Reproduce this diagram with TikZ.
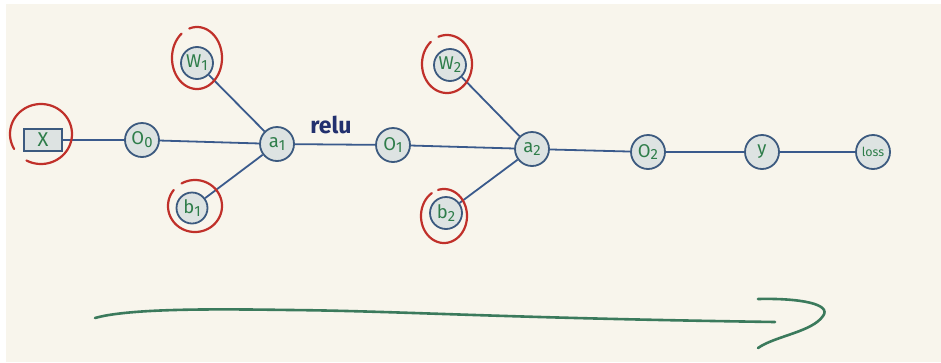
\documentclass[tikz,border=0pt]{standalone}
\usepackage{fontspec}
\setmainfont{Fira Sans}
\definecolor{paper}{HTML}{F8F5EC}
\definecolor{edgeblue}{HTML}{3A5A8C}
\definecolor{ringblue}{HTML}{3C5A7F}
\definecolor{nodefill}{HTML}{DDE3E2}
\definecolor{inkgreen}{HTML}{2E7D4A}
\definecolor{penred}{HTML}{C0302A}
\definecolor{navy}{HTML}{22306E}
\definecolor{arrowgreen}{HTML}{3B7A5C}
\newcommand{\lowidx}[1]{\raisebox{-0.3ex}{\scalebox{0.8}{#1}}}
% hand-drawn ring: centre x, centre y, x radius, y radius, first angle, last angle
\newcommand{\penring}[6]{%
  \draw[ring] plot[domain=#5:#6, samples=90, smooth]
    ({#1+#3*cos(\x)}, {#2+#4*sin(\x)});}
\tikzset{
  var/.style={circle, draw=ringblue, fill=nodefill, line width=1.8pt,
    minimum size=#1, inner sep=0pt, text=inkgreen, font=\fontsize{18.5}{18.5}\selectfont},
  var/.default=34pt,
  inbox/.style={rectangle, draw=ringblue, fill=nodefill, line width=1.8pt,
    minimum width=38pt, minimum height=22pt, inner sep=0pt, text=inkgreen,
    font=\fontsize{20}{20}\selectfont},
  link/.style={draw=edgeblue, line width=1.8pt},
  ring/.style={draw=penred, line width=2.2pt, line cap=round},
  flow/.style={draw=arrowgreen, line width=2.6pt, line cap=round, line join=round}
}
\begin{document}
\begin{tikzpicture}[x=1pt, y=-1pt]
  \useasboundingbox (0,0) rectangle (941,362);
  \fill[white] (0,0) rectangle (941,362);
  \fill[paper] (6,4) rectangle (941,362);

  % graph nodes
  \node[inbox] (x) at (43,140) {X};
  \node[var] (o0) at (142,140) {O\lowidx{0}};
  \node[var=32pt] (w1) at (197,63) {W\lowidx{1}};
  \node[var=31pt] (b1) at (192,208) {b\lowidx{1}};
  \node[var] (a1) at (277,144) {a\lowidx{1}};
  \node[var] (o1) at (393,145) {O\lowidx{1}};
  \node[var=32pt] (w2) at (450,65) {W\lowidx{2}};
  \node[var=32pt] (b2) at (446,213) {b\lowidx{2}};
  \node[var] (a2) at (532,149) {a\lowidx{2}};
  \node[var] (o2) at (648,152) {O\lowidx{2}};
  \node[var] (y) at (762,152) {y};
  \node[var] (loss) at (873,152) {\fontsize{12.5}{12.5}\selectfont loss};

  % connectors
  \draw[link] (x) -- (o0);
  \draw[link] (o0) -- (a1);
  \draw[link] (w1) -- (a1);
  \draw[link] (b1) -- (a1);
  \draw[link] (a1) -- node[above=6pt, pos=0.45, text=navy,
    font=\fontsize{23}{23}\selectfont\bfseries] (relu) {relu} (o1);
  \draw[link] (o1) -- (a2);
  \draw[link] (w2) -- (a2);
  \draw[link] (b2) -- (a2);
  \draw[link] (a2) -- (o2);
  \draw[link] (o2) -- (y);
  \draw[link] (y) -- (loss);

  % red pen rings round the leaves (angles measured with y pointing down)
  \penring{41}{134}{31}{30}{150}{478}
  \penring{197}{58}{25}{31}{252}{592}
  \penring{195}{206}{27}{26}{240}{578}
  \penring{447}{64}{25}{29}{250}{590}
  \penring{444}{216}{23}{27}{255}{598}

  % forward-pass arrow
  \coordinate (fs) at (95,318);
  \coordinate (fe) at (775,322);
  \draw[flow] (fs) .. controls (130,308) and (220,309) .. (290,310)
              .. controls (400,311) and (500,318) .. (fe);
  \coordinate (ht) at (758,299);
  \coordinate (hp) at (823,316);
  \coordinate (hb) at (758,348);
  \draw[flow] (ht) .. controls (800,298) and (832,304) .. (hp)
              .. controls (812,332) and (775,336) .. (hb);
\end{tikzpicture}
\end{document}
